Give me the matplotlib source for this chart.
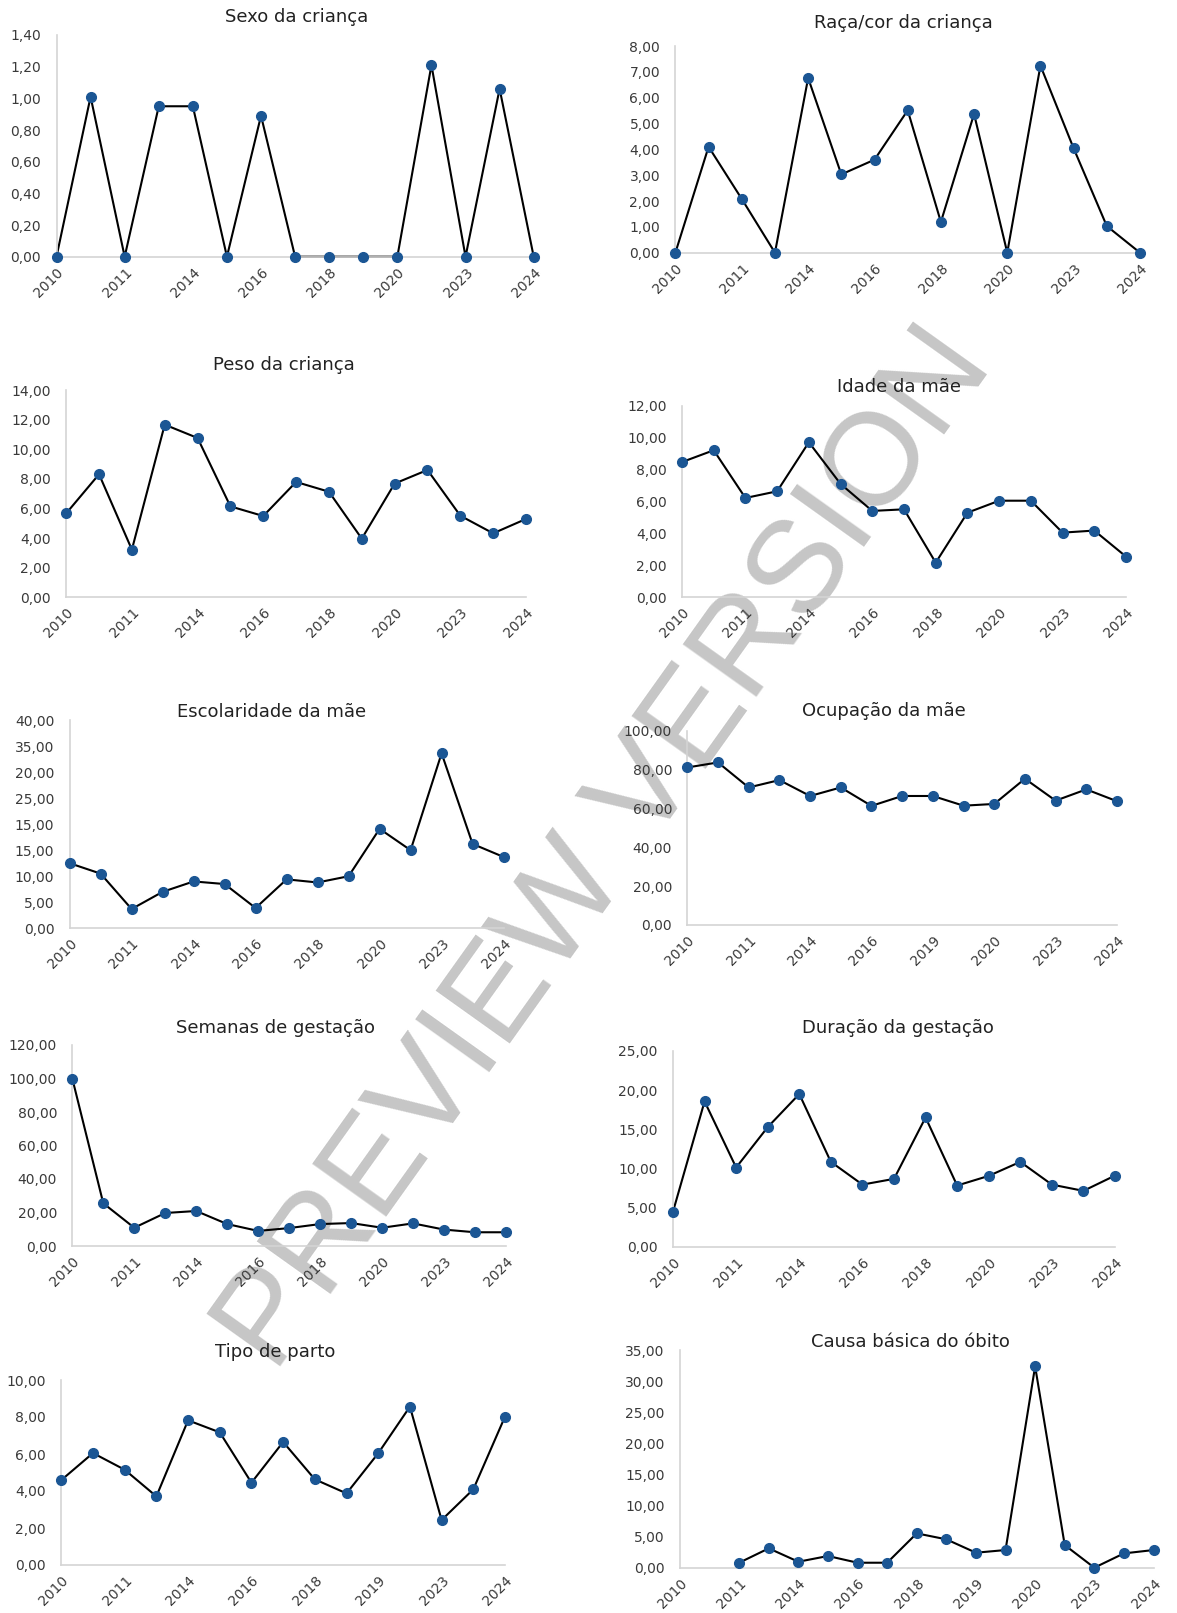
import matplotlib
matplotlib.use("Agg")
import matplotlib.pyplot as plt
import matplotlib.transforms as mtransforms
import numpy as np

# ---- data -------------------------------------------------------------
sexo_labels = ["2010", "2011", "2014", "2016", "2018", "2020", "2023", "2024"]
sexo_values = [0, 1.01, 0, 0.95, 0.95, 0, 0.89, 0, 0, 0, 0, 1.21, 0, 1.06, 0]

raca_labels = ["2010", "2011", "2014", "2016", "2018", "2020", "2023", "2024"]
raca_values = [0, 4.10, 2.08, 0, 6.76, 3.03, 3.60, 5.51, 1.19, 5.37, 0, 7.24, 4.04, 1.03, 0]

peso_labels = ["2010", "2011", "2014", "2016", "2018", "2020", "2023", "2024"]
peso_values = [5.67, 8.31, 3.22, 11.66, 10.76, 6.14, 5.49, 7.79, 7.13, 3.96, 7.68, 8.60, 5.51, 4.32, 5.29]

idade_labels = ["2010", "2011", "2014", "2016", "2018", "2020", "2023", "2024"]
idade_values = [8.47, 9.21, 6.22, 6.64, 9.71, 7.10, 5.41, 5.51, 2.17, 5.30, 6.05, 6.05, 4.05, 4.18, 2.55]

escol_labels = ["2010", "2011", "2014", "2016", "2018", "2020", "2023", "2024"]
escol_values = [12.5, 10.5, 3.7, 7.0, 9.0, 8.5, 3.9, 9.4, 8.8, 10.0, 19.1, 15.0, 33.6, 16.2, 13.7]
escol_ytick_text = ["0,00", "5,00", "10,00", "15,00", "15,00", "25,00", "20,00", "35,00", "40,00"]

ocup_labels = ["2010", "2011", "2014", "2016", "2019", "2020", "2023", "2024"]
ocup_values = [81.2, 83.8, 70.9, 74.7, 66.5, 70.9, 61.4, 66.5, 66.5, 61.5, 62.4, 75.4, 64.1, 69.9, 63.8]

sem_labels = ["2010", "2011", "2014", "2016", "2018", "2020", "2023", "2024"]
sem_values = [100.0, 25.5, 10.9, 19.7, 20.9, 13.1, 9.0, 10.7, 13.1, 13.7, 10.9, 13.5, 9.8, 8.2, 8.2]

dur_labels = ["2010", "2011", "2014", "2016", "2018", "2020", "2023", "2024"]
dur_values = [4.51, 18.57, 10.14, 15.29, 19.51, 10.86, 7.96, 8.69, 16.52, 7.84, 9.07, 10.86, 7.96, 7.16, 9.11]

tipo_labels = ["2010", "2011", "2014", "2016", "2018", "2019", "2023", "2024"]
tipo_values = [4.59, 6.05, 5.15, 3.71, 7.82, 7.17, 4.45, 6.65, 4.63, 3.87, 6.04, 8.56, 2.43, 4.09, 8.02]

# first two categories have no value
causa_labels = ["2010", "2011", "2014", "2016", "2018", "2019", "2020", "2023", "2024"]
causa_values = [np.nan, np.nan, 0.80, 3.11, 0.96, 1.88, 0.80, 0.80, 5.52, 4.56, 2.41, 2.84,
                32.37, 3.64, 0.0, 2.30, 2.84]

# ---- figure -----------------------------------------------------------
W, H = 1177, 1613
fig = plt.figure(figsize=(W / 100, H / 100), dpi=100)
fig.patch.set_facecolor("white")

MARKER = "#1b5694"
TICK_C = "#3a3a3a"
TITLE_C = "#222222"
SPINE_C = "#d4d4d4"


def fmt(v):
    return f"{v:.2f}".replace(".", ",")


# (title, values, xlabels, ymax, ystep, left, right, top, bottom, title_x, title_y, ytick_text)
panels = [
    ("Sexo da criança", sexo_values, sexo_labels, 1.4, 0.2, 56.5, 533.7, 35, 256.7, 297, 17, None),
    ("Raça/cor da criança", raca_values, raca_labels, 8, 1, 675.4, 1140, 46, 252.7, 903, 23, None),
    ("Peso da criança", peso_values, peso_labels, 14, 2, 66.2, 526, 390, 597.3, 284, 365, None),
    ("Idade da mãe", idade_values, idade_labels, 12, 2, 682, 1126, 405.7, 597.3, 899, 387, None),
    ("Escolaridade da mãe", escol_values, escol_labels, 40, 5, 69.6, 503.6, 720, 928.3, 272, 712, escol_ytick_text),
    ("Ocupação da mãe", ocup_values, ocup_labels, 100, 20, 687.3, 1117, 731, 925, 884, 711, None),
    ("Semanas de gestação", sem_values, sem_labels, 120, 20, 72.3, 506, 1045, 1246, 275, 1028, None),
    ("Duração da gestação", dur_values, dur_labels, 25, 5, 673, 1115, 1051, 1247, 898, 1028, None),
    ("Tipo de parto", tipo_values, tipo_labels, 10, 2, 61.3, 505, 1380, 1565, 275, 1352, None),
    ("Causa básica do óbito", causa_values, causa_labels, 35, 5, 680, 1153.5, 1350, 1567.7, 910, 1342, None),
]

for (title, vals, xl, ymax, ystep, L, R, T, B, tx, ty, ytext) in panels:
    ax = fig.add_axes([L / W, 1 - B / H, (R - L) / W, (B - T) / H])
    ax.set_facecolor("none")
    n = len(vals)
    x = np.arange(n)
    ax.plot(x, vals, color="black", lw=1.5, zorder=2, clip_on=False)
    ax.plot(x, vals, ls="none", marker="o", ms=7.0, color=MARKER,
            mec=MARKER, zorder=3, clip_on=False)
    ax.set_xlim(0, n - 1)
    ax.set_ylim(0, ymax)
    yt = np.arange(0, ymax + ystep / 2, ystep)
    ax.set_yticks(yt)
    ax.set_yticklabels(ytext if ytext else [fmt(v) for v in yt])
    ax.set_xticks(np.arange(0, n, 2))
    ax.set_xticklabels(xl)
    for s in ("top", "right"):
        ax.spines[s].set_visible(False)
    for s in ("left", "bottom"):
        ax.spines[s].set_color(SPINE_C)
        ax.spines[s].set_linewidth(1.2)
    ax.tick_params(axis="both", length=0, labelsize=10, labelcolor=TICK_C)
    ax.tick_params(axis="y", pad=11)
    ax.tick_params(axis="x", pad=6)
    for lab in ax.get_xticklabels():
        lab.set_rotation(45)
        lab.set_ha("right")
        lab.set_va("top")
        lab.set_rotation_mode("anchor")
    fig.text(tx / W, 1 - ty / H, title, ha="center", va="center",
             fontsize=13, color=TITLE_C)

# diagonal watermark behind the charts
fig.text(606 / W, 1 - 850 / H, "PREVIEW VERSION", rotation=54.5,
         rotation_mode="anchor", ha="center", va="center",
         fontsize=95, family="Liberation Sans", color="#c6c6c6", zorder=-5)

fig.savefig("out.png", dpi=100, facecolor="white")
